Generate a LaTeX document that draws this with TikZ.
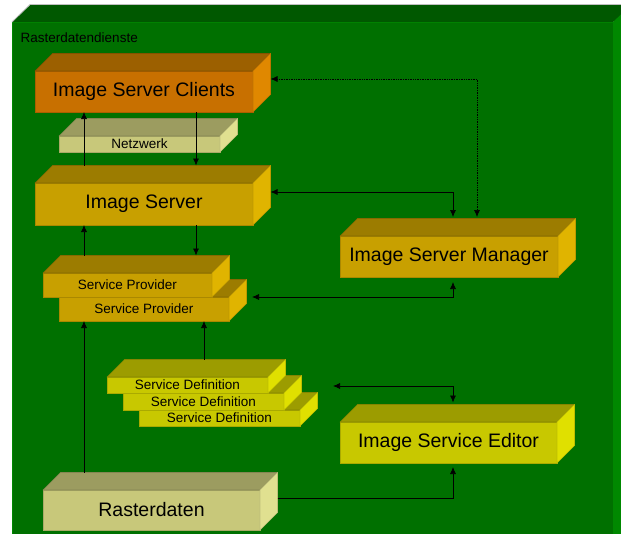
\documentclass[tikz,border=0pt]{standalone}
\usepackage{fontspec}
\setmainfont{Liberation Sans}
\usetikzlibrary{calc,arrows.meta}

% palettes: F = front, T = top, S = side
\definecolor{bgF}{HTML}{007000}
\definecolor{bgT}{HTML}{005800}
\definecolor{bgS}{HTML}{008800}
\definecolor{orgF}{HTML}{C87000}
\definecolor{orgT}{HTML}{9C6000}
\definecolor{orgS}{HTML}{E08800}
\definecolor{ochF}{HTML}{C8A000}
\definecolor{ochT}{HTML}{9C7C00}
\definecolor{ochS}{HTML}{E0B400}
\definecolor{yelF}{HTML}{C8C800}
\definecolor{yelT}{HTML}{9C9C00}
\definecolor{yelS}{HTML}{E0E000}
\definecolor{palF}{HTML}{C8C87A}
\definecolor{palT}{HTML}{9C9C60}
\definecolor{palS}{HTML}{E0E090}

\tikzset{
  bigtext/.style={font=\fontsize{19.5}{22}\selectfont},
  smalltext/.style={font=\fontsize{13.5}{15}\selectfont},
  slabfront/.style={rectangle, inner sep=0pt, outer sep=0pt, line width=0.6pt, text=black},
  link/.style={line width=0.7pt, draw=black, arrows={-Latex[length=7pt,width=6pt]}},
  bilink/.style={line width=0.7pt, draw=black, arrows={Latex[length=7pt,width=6pt]-Latex[length=7pt,width=6pt]}},
}

% depth of the slanted faces
\newcommand\slabdx{17.5}
\newcommand\slabdy{17.5}

% \slab{name}{palette}{font style}{x1}{y1}{x2}{y2}{text}
\newcommand\slab[8]{%
  \node[slabfront, #3, fill=#2F, draw=#2F!85!black,
        minimum width={#6-#4}, minimum height={#7-#5}]
        (#1) at ({(#4+#6)/2},{(#5+#7)/2}) {#8};
  \filldraw[fill=#2T, draw=#2T!85!black, line width=0.6pt, line join=round]
    (#1.north west) -- ++(\slabdx,-\slabdy)
    -- ([shift={(\slabdx,-\slabdy)}]#1.north east) -- (#1.north east) -- cycle;
  \filldraw[fill=#2S, draw=#2S!85!black, line width=0.6pt, line join=round]
    (#1.north east) -- ++(\slabdx,-\slabdy)
    -- ([shift={(\slabdx,-\slabdy)}]#1.south east) -- (#1.south east) -- cycle;
  \coordinate (#1-back) at ([shift={(0,-\slabdy)}]#1.north);
}

\begin{document}
\begin{tikzpicture}[x=1pt,y=-1pt]
  \useasboundingbox (0,0) rectangle (621,533);
  \clip (0,0) rectangle (621,533);
  \fill[white] (0,0) rectangle (621,533);

  % enclosing slab "Rasterdatendienste"
  \filldraw[fill=bgF, draw=bgS, line width=0.6pt] (12,22) rectangle (613,560);
  \fill[bgT] (12,22) -- (30,5) -- (640,5) -- (613,22) -- cycle;
  \fill[bgS] (613,22) -- (631,5) -- (631,560) -- (613,560) -- cycle;
  \draw[gray!50, line width=0.8pt] (12,22) -- (30,4.5) -- (640,4.5);
  \node[smalltext, anchor=west, inner sep=0pt] (title) at (20.5,38) {Rasterdatendienste};

  % building blocks
  \slab{isc}{org}{bigtext}{35}{71}{253}{112}{Image Server Clients}
  \slab{net}{pal}{smalltext}{59}{136}{220}{152}{Netzwerk}
  \slab{is}{och}{bigtext}{35}{183}{253}{225}{Image Server}
  \slab{sp2}{och}{smalltext}{59}{297}{229}{321}{Service Provider}
  \slab{sp1}{och}{smalltext}{43}{273}{212}{297}{Service Provider}
  \slab{ism}{och}{bigtext}{340}{236}{558}{277}{Image Server Manager}
  \slab{sd3}{yel}{smalltext}{139}{410}{300}{426}{Service Definition}
  \slab{sd2}{yel}{smalltext}{123}{393}{284}{410}{Service Definition}
  \slab{sd1}{yel}{smalltext}{107}{377}{268}{393}{Service Definition}
  \slab{ise}{yel}{bigtext}{340}{422}{557}{463}{Image Service Editor}
  \slab{ras}{pal}{bigtext}{43}{490}{260}{530}{Rasterdaten}

  % connector columns
  \coordinate (colL) at (84,0);
  \coordinate (colR) at (196,0);
  \coordinate (colSD) at (204,0);
  \coordinate (colMA) at (453,0);
  \coordinate (colMB) at (477,0);
  \coordinate (sdfree) at (333,386);

  % vertical data flow
  \draw[link] (isc.south -| colR) -- (is-back -| colR);
  \draw[link] (is-back -| colL) -- (isc.south -| colL);
  \draw[link] (is.south -| colR) -- (sp1-back -| colR);
  \draw[link] (sp1-back -| colL) -- (is.south -| colL);
  \draw[link] (ras-back -| colL) -- (sp2.south -| colL);
  \draw[link] (sd1-back -| colSD) -- (sp2.south -| colSD);

  % management links
  \draw[bilink, densely dotted] ($(isc.north east)+(17.5,8)$) -| ($(ism-back -| colMB)+(0,-1.5)$);
  \draw[bilink] ($(is.north east)+(17.5,9)$) -| ($(ism-back -| colMA)+(0,-1.5)$);
  \draw[bilink] ($(sp2.north east)+(23,0)$) -| ($(ism.south -| colMA)+(0,5)$);
  \draw[bilink] (sdfree) -| ($(ise-back -| colMA)+(0,-2)$);
  \draw[link] ($(ras.north east)+(17.5,8)$) -| ($(ise.south -| colMA)+(0,4)$);
\end{tikzpicture}
\end{document}
